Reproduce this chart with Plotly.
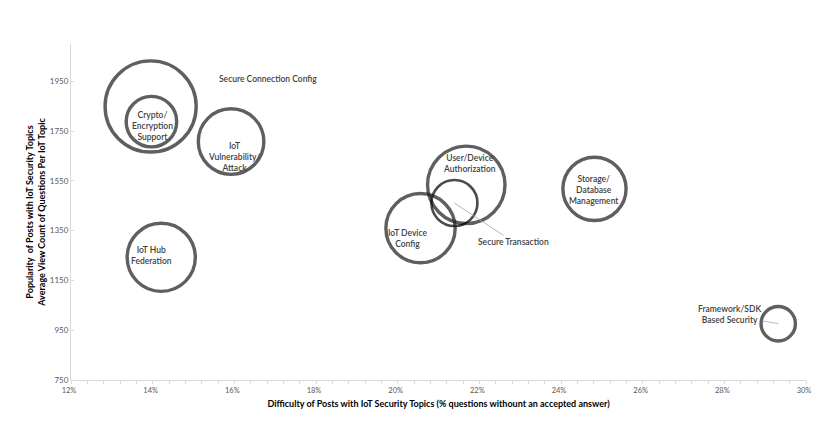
import plotly.graph_objects as go

topics = ["Secure Connection Config", "Crypto/Encryption Support", "IoT Vulnerability/Attack",
          "User/Device Authorization", "Secure Transaction", "IoT Device Config",
          "Storage/Database Management", "IoT Hub Federation", "Framework/SDK Based Security"]
labels = ["Secure Connection Config", "Crypto/<br>Encryption<br>Support", "IoT<br>Vulnerability/<br>Attack",
          "User/Device<br>Authorization", "Secure Transaction", "IoT Device<br>Config",
          "Storage/<br>Database<br>Management", "IoT Hub<br>Federation", "Framework/SDK<br>Based Security"]
difficulty = [0.1395, 0.1397, 0.1592, 0.2168, 0.2139, 0.2056, 0.2482, 0.1421, 0.2932]
avg_views = [1849, 1788, 1708, 1534, 1461, 1360, 1518, 1243, 976]
bubble_size = [830, 255, 430, 600, 212, 480, 400, 465, 118]

x_ticks = [0.12, 0.14, 0.16, 0.18, 0.20, 0.22, 0.24, 0.26, 0.28, 0.30]
y_ticks = [750, 950, 1150, 1350, 1550, 1750, 1950]

# label placement (pixel offsets from bubble centre)
label_pos = [
    dict(xshift=66, yshift=27, xanchor="left", showarrow=False),
    dict(xshift=1, yshift=-4, showarrow=False),
    dict(xshift=3, yshift=-15, showarrow=False),
    dict(xshift=3, yshift=21, showarrow=False),
    dict(showarrow=True, ax=59, ay=39),
    dict(xshift=-13, yshift=-10, showarrow=False),
    dict(xshift=0, yshift=-1, showarrow=False),
    dict(xshift=-10, yshift=2, showarrow=False),
    dict(showarrow=True, ax=-49, ay=-9),
]

line_colors = ["#1c1c1c"] * len(topics)
line_widths = [3.4] * len(topics)
line_colors[4] = "#000000"
line_widths[4] = 2.6

fig = go.Figure()
fig.add_trace(go.Scatter(
    x=difficulty, y=avg_views, mode="markers",
    text=topics, hoverinfo="text",
    marker=dict(size=bubble_size, sizemode="area", sizeref=0.2,
                color="rgba(0,0,0,0)",
                line=dict(color=line_colors, width=line_widths)),
    showlegend=False,
))

for x, y, t, p in zip(difficulty, avg_views, labels, label_pos):
    a = dict(x=x, y=y, xref="x", yref="y", text=t,
             font=dict(family="Lato, Open Sans, sans-serif", size=8.5, color="#404040", weight=600),
             align="center")
    if p.get("showarrow"):
        a.update(showarrow=True, arrowhead=0, arrowwidth=0.8, arrowcolor="#a6a6a6",
                 ax=p["ax"], ay=p["ay"], standoff=0, startstandoff=0)
    else:
        a.update(showarrow=False, xshift=p["xshift"], yshift=p["yshift"],
                 xanchor=p.get("xanchor", "center"))
    fig.add_annotation(**a)

axis_font = dict(family="Lato, Open Sans, sans-serif", size=8, color="#595959")
title_font = dict(family="Lato, Open Sans, sans-serif", size=9, color="#000000", weight="bold")

# page body has an 8px default margin on every side; keep the figure inside the window
fig.update_layout(
    width=809, height=411,
    margin=dict(l=63, r=6, t=36, b=39),
    paper_bgcolor="white", plot_bgcolor="white",
    xaxis=dict(range=[0.12, 0.30], tickvals=x_ticks, tickformat=".0%",
               showgrid=False, zeroline=False, showline=True, linecolor="#d9d9d9", linewidth=1,
               ticks="outside", ticklen=3, tickcolor="#d9d9d9",
               minor=dict(dtick=0.004, ticks="outside", ticklen=3, tickcolor="#d9d9d9"),
               tickfont=dict(family="Lato, Open Sans, sans-serif", size=7.5, color="#595959"),
               ticklabelshift=-2,
               title=dict(text="Difficulty of Posts with IoT Security Topics (% questions withount an accepted answer)",
                          font=title_font, standoff=6)),
    yaxis=dict(range=[750, 2100], tickvals=y_ticks,
               showgrid=False, zeroline=False, showline=True, linecolor="#d9d9d9", linewidth=1,
               ticks="inside", ticklen=3, tickcolor="#d9d9d9",
               tickfont=axis_font,
               title=dict(text="Popularity  of Posts with IoT Security Topics<br>Average View Count of Questions Per IoT Topic",
                          font=title_font, standoff=2)),
)

fig.write_html("out.html")
